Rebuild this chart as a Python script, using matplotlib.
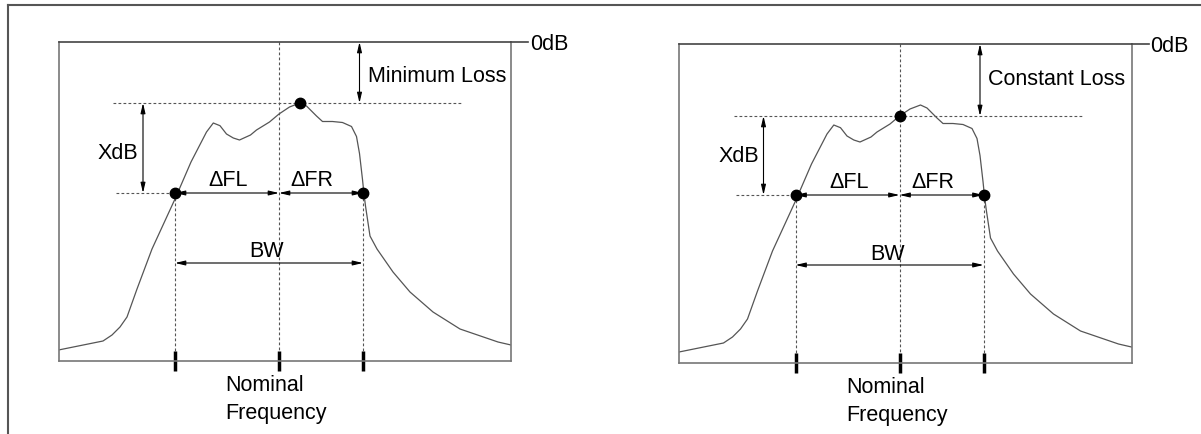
import matplotlib.pyplot as plt
from matplotlib.lines import Line2D

plt.rcParams['font.family'] = ['Liberation Sans', 'DejaVu Sans']

# filter response, panel units (x from left edge of box, y = level below 0dB)
freq = [0, 44.5, 53.5, 61.5, 68.5, 78.5, 93.5, 116.5, 132.5, 148, 154.8, 161.5,
        168, 174.8, 181, 192, 198, 211, 220.5, 231, 241.5,
        248, 258, 264, 274, 284, 293, 298, 301, 304, 305.5, 307, 311.5, 318.5,
        334.5, 351.5, 374.5, 401.5, 439.5, 452.5]
level = [-308, -299, -293, -285, -275, -247, -207, -157, -120, -90, -81, -83.7,
         -92, -96, -98, -93, -88, -80, -72, -65, -61,
         -64, -74, -79.5, -79.5, -80.5, -84.5, -94.5, -111.5, -137.5, -152, -164, -194, -207,
         -230, -250, -270, -287, -300, -303]

f_lo, f_nom, f_hi = 116.5, 220.5, 304.5
peak_f, peak_level = 241.5, -61
nom_level = -72
xdb_level = -151
bw_level = -221

panels = [
    dict(pos=(58.5, 362), ref_f=peak_f, ref_level=peak_level, loss='Minimum Loss'),
    dict(pos=(679, 364), ref_f=f_nom, ref_level=nom_level, loss='Constant Loss'),
]

W, H = 1201, 435
BOX_W, BOX_H = 452.5, 319
fig = plt.figure(figsize=(W / 100, H / 100), dpi=100)

# outer frame (top and left only)
fig.add_artist(Line2D([8 / W, 1], [1 - 6 / H, 1 - 6 / H], transform=fig.transFigure, color='#555555', lw=1.5))
fig.add_artist(Line2D([8 / W, 8 / W], [0, 1 - 6 / H], transform=fig.transFigure, color='#555555', lw=1.5))

dot = dict(linestyle='none', marker='o', ms=7.5, color='black', zorder=5)
dashed = dict(color='#555555', lw=0.8, linestyle=(0, (2.5, 2)))
fs = 15.5


def arrow(ax, x0, y0, x1, y1):
    ax.annotate('', xy=(x1, y1), xytext=(x0, y0),
                arrowprops=dict(arrowstyle='<|-|>,head_length=0.6,head_width=0.14',
                                color='black', lw=0.8, shrinkA=0, shrinkB=0,
                                mutation_scale=10), annotation_clip=False)


for p in panels:
    x0, yb = p['pos']
    ax = fig.add_axes([x0 / W, 1 - yb / H, BOX_W / W, BOX_H / H])
    ax.set_xlim(0, BOX_W)
    ax.set_ylim(-BOX_H, 0)
    ax.set_xticks([])
    ax.set_yticks([])
    for s in ax.spines.values():
        s.set_color('#777777')
        s.set_linewidth(1.2)
    ax.spines['top'].set_color('#444444')

    ax.plot(freq, level, color='#555555', lw=0.9)

    # 0dB line and label
    ax.plot([BOX_W, 469.5], [0, 0], color='#444444', lw=1.2, clip_on=False)
    ax.text(471.5, -1, '0dB', fontsize=fs, va='center', ha='left')

    # reference level and -XdB level
    ax.plot([54.5, 403], [p['ref_level']] * 2, **dashed)
    ax.plot([57, f_lo], [xdb_level] * 2, **dashed)
    ax.plot([f_nom, f_nom], [0, -309], **dashed)
    ax.plot([f_lo, f_lo], [xdb_level, -309], **dashed)
    ax.plot([f_hi, f_hi], [xdb_level, -309], **dashed)

    # frequency ticks below the box
    for f in (f_lo, f_nom, f_hi):
        ax.plot([f, f], [-309, -329], color='black', lw=2.5, clip_on=False,
                solid_capstyle='butt')

    arrow(ax, 84.5, p['ref_level'], 84.5, xdb_level)
    arrow(ax, 301, 0, 301, p['ref_level'])
    arrow(ax, f_lo, xdb_level, f_nom, xdb_level)
    arrow(ax, f_nom, xdb_level, f_hi, xdb_level)
    arrow(ax, f_lo, bw_level, f_hi, bw_level)

    ax.plot([f_lo, f_hi], [xdb_level, xdb_level], **dot)
    ax.plot([p['ref_f']], [p['ref_level']], **dot)

    ax.text(59.5, -111, 'XdB', fontsize=fs, ha='center', va='center')
    ax.text(309, -34, p['loss'], fontsize=fs, ha='left', va='center')
    ax.text(170, -138, 'ΔFL', fontsize=fs, ha='center', va='center')
    ax.text(253.5, -138, 'ΔFR', fontsize=fs, ha='center', va='center')
    ax.text(208, -209, 'BW', fontsize=fs, ha='center', va='center')
    ax.text(167, -343, 'Nominal', fontsize=fs, ha='left', va='center')
    ax.text(167, -371, 'Frequency', fontsize=fs, ha='left', va='center')

fig.savefig('out.png', dpi=100)
